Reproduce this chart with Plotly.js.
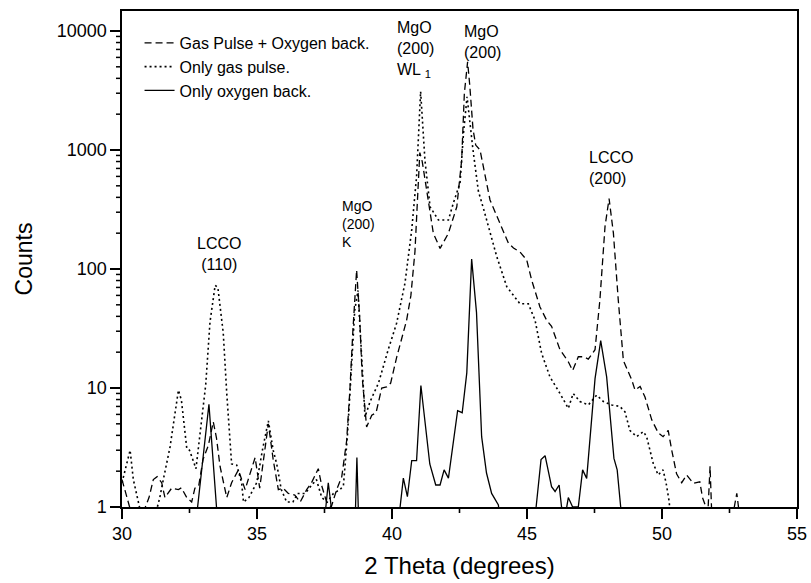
<!DOCTYPE html>
<html>
<head>
<meta charset="utf-8">
<script src="https://cdn.plot.ly/plotly-3.0.1.min.js"></script>
<style>html,body{margin:0;padding:0;background:#fff;}#chart{width:811px;height:583px;}</style>
</head>
<body>
<div id="chart"></div>
<script>
// Gas Pulse + Oxygen back. (dashed)
const gasOxX = [30.0,30.2,30.4,30.7,31.0,31.16,31.3,31.47,31.59,31.84,32.09,32.2,32.4,32.58,32.7,32.84,33.0,33.2,33.38,33.5,33.63,33.88,34.06,34.31,34.56,34.74,34.93,35.1,35.25,35.42,35.6,35.79,35.97,36.16,36.4,36.6,36.84,37.02,37.27,37.4,37.58,37.75,37.95,38.14,38.32,38.44,38.55,38.69,38.8,38.9,39.06,39.25,39.41,39.62,39.8,39.95,40.17,40.35,40.54,40.7,40.85,40.93,41.03,41.12,41.28,41.53,41.78,42.09,42.4,42.58,42.68,42.8,42.88,43.0,43.1,43.26,43.63,44.0,44.31,44.5,44.74,44.99,45.17,45.48,45.73,45.91,46.22,46.53,46.69,46.9,47.09,47.27,47.52,47.7,47.89,48.04,48.2,48.38,48.57,48.88,49.0,49.19,49.37,49.62,49.86,50.04,50.23,50.36,50.54,50.73,50.91,51.16,51.4,51.5,51.7,51.78,51.84,52.0,52.6,52.77,52.85,53.0];
const gasOxY = [1.7,1.2,0.8,0.8,1.2,1.7,1.8,1.6,1.2,1.44,1.4,1.45,1.2,1.1,1.44,1.5,2.5,3.3,5.2,3.8,2.2,1.2,1.6,2.05,1.4,1.9,2.6,1.44,2.5,5.0,2.5,1.4,1.44,1.3,1.26,1.1,1.4,1.6,2.1,1.5,1.1,1.0,1.4,1.8,3.6,9.6,30,98,40,12,4.7,5.9,6.2,10,10.2,11,18,26,37,60,140,330,950,800,460,200,149,200,333,820,3000,5500,3500,1500,1100,1000,380,240,165,150,139,119,81,48,37,33,21,16.6,14,18.3,18.3,17.5,21,55,228,390,200,55,17,11.7,9.6,10.3,8.4,5.4,4.2,3.9,4.4,3.0,1.9,1.6,1.86,1.58,1.63,1.2,0.9,2.2,0.9,0.8,0.8,1.3,0.9,0.5];

// Only gas pulse. (dotted)
const gasX = [30.0,30.3,30.42,30.6,30.8,31.2,31.4,31.53,31.78,32.09,32.2,32.4,32.5,32.74,33.1,33.26,33.45,33.55,33.75,33.88,34.06,34.25,34.43,34.5,34.7,34.99,35.2,35.42,35.6,35.73,35.9,36.1,36.33,36.5,36.78,37.0,37.2,37.4,37.6,37.83,38.07,38.2,38.35,38.5,38.62,38.74,38.85,39.0,39.19,39.5,39.86,40.17,40.48,40.73,40.91,41.06,41.22,41.41,41.72,42.09,42.27,42.52,42.65,42.78,43.0,43.2,43.4,43.63,43.88,44.25,44.74,45.05,45.3,45.54,45.85,46.22,46.53,46.71,46.96,47.27,47.58,47.83,48.14,48.44,48.63,48.81,49.06,49.31,49.43,49.68,49.86,50.04,50.15,50.27,50.35];
const gasY = [1.6,3.0,1.7,1.08,0.7,0.8,1.2,1.7,3.2,9.6,7.9,3.1,3.0,2.1,10.6,36,73,70,29,9,2.3,2.25,1.6,1.1,1.2,1.6,3.0,5.3,3.0,2.3,1.4,1.1,1.1,1.3,1.3,1.5,1.7,1.2,1.1,1.3,1.4,1.5,4,15,45,66,25,5.7,7.7,11,21,35,76,213,600,3100,820,333,258,258,357,530,1400,2800,1000,450,315,200,127,71,51,51,37,19.6,12.4,9,6.75,9,7.7,7.2,8.7,7.7,7.2,7.0,6.3,4.4,3.9,4.3,3.9,2.3,1.86,2.05,1.6,1.1,0.5];

// Only oxygen back. (solid)
const oxX = [30.0,32.7,32.8,33.22,33.5,33.6,37.5,37.55,37.64,37.75,37.85,38.6,38.65,38.7,38.75,38.8,40.2,40.3,40.42,40.57,40.73,40.91,41.07,41.4,41.62,41.78,41.93,42.09,42.43,42.6,42.77,42.95,43.13,43.32,43.5,43.69,43.94,44.1,45.2,45.33,45.52,45.67,45.91,46.04,46.19,46.28,46.4,46.53,46.69,46.9,47.06,47.21,47.52,47.73,47.95,48.22,48.34,48.47,48.5,55.0];
const oxY = [0.5,0.5,1.0,7.3,1.0,0.5,0.5,1.0,1.6,1.0,0.5,0.5,1.0,2.6,1.0,0.5,0.5,1.0,1.75,1.22,2.45,2.45,10.5,2.3,1.53,1.53,2.05,1.75,6.45,6.2,13.4,121,43,3.9,1.93,1.3,1.04,0.5,0.5,1.0,2.5,2.7,1.48,1.35,1.53,1.0,0.8,1.2,1.0,1.0,2.05,1.74,12,25,12.4,2.56,2.05,1.0,0.5,0.5];

const seriesNames = ["Gas Pulse + Oxygen back.", "Only gas pulse.", "Only oxygen back."];
const yTickVals = [1, 10, 100, 1000, 10000];
const yTickText = ["1", "10", "100", "1000", "10000"];
const xTickVals = [30, 35, 40, 45, 50, 55];
const xTickText = ["30", "35", "40", "45", "50", "55"];

const FONT = "Liberation Sans, Arial, Helvetica, sans-serif";
const X_RANGE = [30, 55];
const Y_RANGE = [0, 4.168];
const PLOT_W = 811 - 122 - 14, PLOT_H = 583 - 11 - 76;

// minor tick marks (axis decoration only), placed as paper-space shapes
const shapes = [];
for (let d = 1; d <= 10000; d *= 10) {
  for (let k = 2; k <= 9; k++) {
    const f = Math.log10(d * k) / Y_RANGE[1];
    if (f <= 1) shapes.push({type: "line", xref: "paper", yref: "paper", layer: "above",
      x0: -6 / PLOT_W, x1: 0, y0: f, y1: f, line: {color: "black", width: 1.5}});
  }
}
for (let v = 32.5; v < 55; v += 5) {
  const f = (v - X_RANGE[0]) / (X_RANGE[1] - X_RANGE[0]);
  shapes.push({type: "line", xref: "paper", yref: "paper", layer: "above",
    x0: f, x1: f, y0: -6 / PLOT_H, y1: 0, line: {color: "black", width: 1.6}});
}

const traces = [
  {x: gasOxX, y: gasOxY, name: seriesNames[0], mode: "lines", type: "scatter",
   line: {color: "black", width: 1.3, dash: "7px,4px"}},
  {x: gasX, y: gasY, name: seriesNames[1], mode: "lines", type: "scatter",
   line: {color: "black", width: 1.6, dash: "2px,3px"}},
  {x: oxX, y: oxY, name: seriesNames[2], mode: "lines", type: "scatter",
   line: {color: "black", width: 1.3}}
];

const annFont = {family: FONT, size: 16, color: "black"};
const layout = {
  width: 811, height: 583,
  margin: {l: 122, r: 14, t: 11, b: 76},
  paper_bgcolor: "white", plot_bgcolor: "white",
  font: {family: FONT, color: "black"},
  showlegend: true,
  legend: {x: 0.026, y: 0.97, xanchor: "left", yanchor: "top",
           bgcolor: "rgba(0,0,0,0)", borderwidth: 0,
           font: {family: FONT, size: 16, color: "black"}},
  xaxis: {
    range: X_RANGE, showgrid: false, zeroline: false,
    showline: true, linecolor: "black", linewidth: 1.6, mirror: true,
    ticks: "outside", ticklen: 10, tickwidth: 1.8, tickcolor: "black",
    tickmode: "array", tickvals: xTickVals, ticktext: xTickText,
    tickfont: {family: FONT, size: 18, color: "black"},
    title: {text: "2 Theta (degrees)", font: {family: FONT, size: 24, color: "black"}, standoff: 14}
  },
  yaxis: {
    type: "log", range: Y_RANGE, showgrid: false, zeroline: false,
    showline: true, linecolor: "black", linewidth: 1.6, mirror: true,
    ticks: "outside", ticklen: 10, tickwidth: 1.8, tickcolor: "black",
    tickmode: "array", tickvals: yTickVals, ticktext: yTickText,
    tickfont: {family: FONT, size: 18, color: "black"},
    title: {text: "Counts", font: {family: FONT, size: 23, color: "black"}, standoff: 17}
  },
  shapes: shapes,
  annotations: [
    {text: "LCCO<br>(110)", x: 33.59, y: 0.51, xref: "x", yref: "paper", xanchor: "center", yanchor: "middle", align: "center", showarrow: false, font: annFont},
    {text: "MgO<br>(200)<br>K", x: 38.08, y: 0.571, xref: "x", yref: "paper", xanchor: "left", yanchor: "middle", align: "left", showarrow: false, font: {family: FONT, size: 14, color: "black"}},
    {text: "MgO<br>(200)<br>WL <sub>1</sub>", x: 40.12, y: 0.923, xref: "x", yref: "paper", xanchor: "left", yanchor: "middle", align: "left", showarrow: false, font: annFont},
    {text: "MgO<br>(200)", x: 42.6, y: 0.9375, xref: "x", yref: "paper", xanchor: "left", yanchor: "middle", align: "left", showarrow: false, font: annFont},
    {text: "LCCO<br>(200)", x: 47.23, y: 0.683, xref: "x", yref: "paper", xanchor: "left", yanchor: "middle", align: "left", showarrow: false, font: annFont}
  ]
};

Plotly.newPlot("chart", traces, layout, {displayModeBar: false, staticPlot: true});
</script>
</body>
</html>
